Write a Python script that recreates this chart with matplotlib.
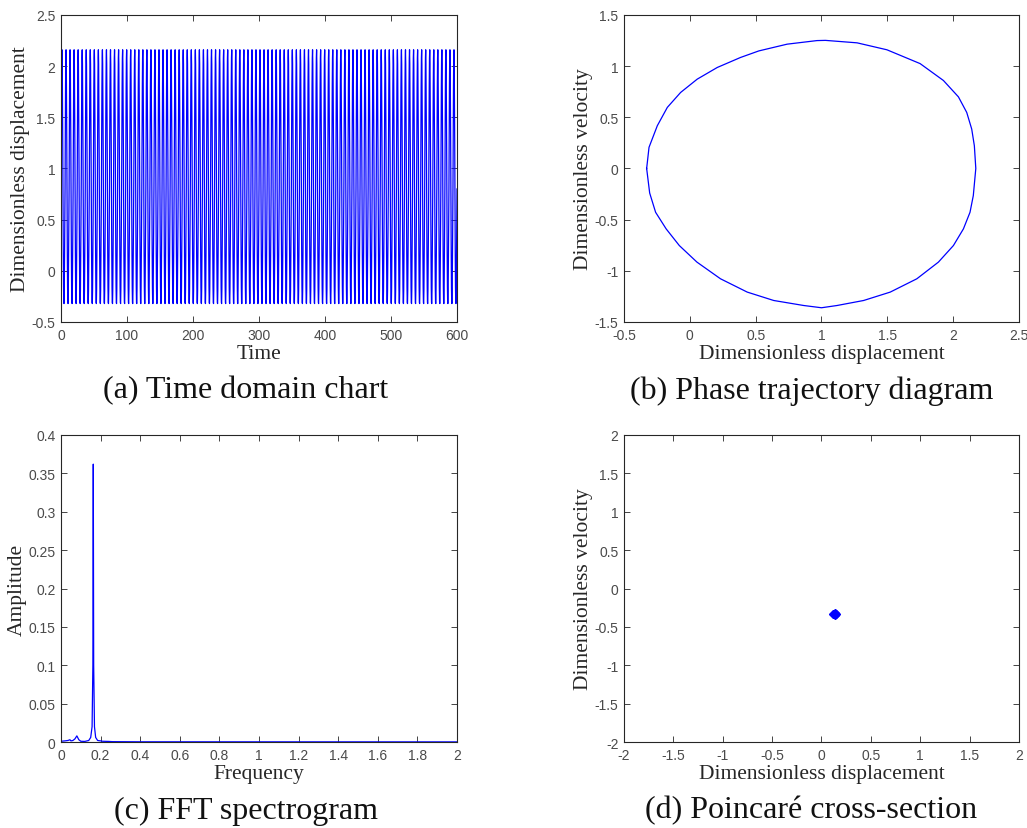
import numpy as np
import matplotlib
matplotlib.use('Agg')
import matplotlib.pyplot as plt

ciclo_desl = [0.80, 1.35, 1.80, 2.08, 2.16, 2.02, 1.68, 1.20, 0.66, 0.18,
              -0.16, -0.31, -0.32, -0.18, 0.10, 0.45]
n_ciclos = 98
t_max = 600

# phase loop (displacement, velocity), clockwise from the leftmost point
fase_x = [-0.328, -0.31, -0.247, -0.171, -0.070, 0.056, 0.208, 0.385, 0.524,
          0.739, 0.966, 1.03, 1.270, 1.497, 1.749, 1.926, 2.040, 2.103, 2.141,
          2.161, 2.172, 2.153, 2.128, 2.078, 2.002, 1.888, 1.724, 1.522, 1.320,
          1.118, 1.0, 0.865, 0.637, 0.436, 0.233, 0.054, -0.080, -0.180,
          -0.260, -0.305, -0.328]
fase_v = [0.0, 0.207, 0.418, 0.597, 0.743, 0.873, 0.987, 1.085, 1.149,
          1.215, 1.250, 1.252, 1.228, 1.160, 1.025, 0.860, 0.700, 0.548, 0.385,
          0.222, 0.0, -0.265, -0.428, -0.590, -0.753, -0.915, -1.078, -1.208,
          -1.290, -1.339, -1.361, -1.339, -1.290, -1.208, -1.078, -0.915, -0.753,
          -0.590, -0.428, -0.240, 0.0]

# FFT spectrum
freq = [0, 0.02, 0.035, 0.045, 0.05, 0.06, 0.07, 0.08, 0.09, 0.10, 0.12,
        0.14, 0.15, 0.157, 0.161, 0.163, 0.165, 0.169, 0.175, 0.185, 0.20,
        0.21, 0.24, 0.26, 0.40, 2.0]
ampl = [0.001, 0.0015, 0.002, 0.003, 0.0015, 0.002, 0.004, 0.008, 0.003, 0.001, 0.0008,
        0.002, 0.006, 0.02, 0.1, 0.362, 0.1, 0.02, 0.006, 0.002, 0.0015,
        0.001, 0.0008, 0.0005, 0.0003, 0.0002]

# Poincare points
poinc_x = [0.12, 0.135, 0.15, 0.14]
poinc_v = [-0.33, -0.35, -0.33, -0.32]

legendas = ['(a) Time domain chart', '(b) Phase trajectory diagram',
            '(c) FFT spectrogram', '(d) Poincaré cross-section']

azul = '#0000ff'
serif = 'Liberation Serif'
sans = 'Liberation Sans'
tam_rotulo = 15.5

fig = plt.figure(figsize=(10.27, 8.29), dpi=100)

posicoes = [[0.0594, 0.6104, 0.3856, 0.3703],
            [0.6076, 0.6104, 0.3846, 0.3703],
            [0.0594, 0.1037, 0.3856, 0.3704],
            [0.6076, 0.1037, 0.3846, 0.3704]]
eixos = [fig.add_axes(p) for p in posicoes]


def estilo(ax):
    for s in ax.spines.values():
        s.set_color('#262626')
        s.set_linewidth(0.8)
    ax.tick_params(direction='in', top=True, right=True, length=4,
                   width=0.6, color='#262626', labelcolor='#4a4a4a',
                   labelsize=10, pad=4)
    for lab in ax.get_xticklabels() + ax.get_yticklabels():
        lab.set_family(sans)


def rotulos(ax, xl, yl):
    ax.set_xlabel(xl, family=serif, fontsize=tam_rotulo, color='#262626', labelpad=2)
    ax.set_ylabel(yl, family=serif, fontsize=tam_rotulo, color='#262626', labelpad=1)


# (a)
ax = eixos[0]
desl = np.append(np.tile(ciclo_desl, n_ciclos), ciclo_desl[0])
tempo = np.linspace(0, t_max, len(desl))
ax.plot(tempo, desl, color=azul, lw=0.9)
ax.set_xlim(0, 600)
ax.set_ylim(-0.5, 2.5)
ax.set_xticks(range(0, 601, 100))
ax.set_yticks([-0.5, 0, 0.5, 1, 1.5, 2, 2.5])
ax.set_yticklabels(['-0.5', '0', '0.5', '1', '1.5', '2', '2.5'])
rotulos(ax, 'Time', 'Dimensionless displacement')

# (b)
ax = eixos[1]
ax.plot(fase_x, fase_v, color=azul, lw=0.9)
ax.set_xlim(-0.5, 2.5)
ax.set_ylim(-1.5, 1.5)
ax.set_xticks([-0.5, 0, 0.5, 1, 1.5, 2, 2.5])
ax.set_xticklabels(['-0.5', '0', '0.5', '1', '1.5', '2', '2.5'])
ax.set_yticks([-1.5, -1, -0.5, 0, 0.5, 1, 1.5])
ax.set_yticklabels(['-1.5', '-1', '-0.5', '0', '0.5', '1', '1.5'])
rotulos(ax, 'Dimensionless displacement', 'Dimensionless velocity')

# (c)
ax = eixos[2]
ax.plot(freq, ampl, color=azul, lw=0.9)
ax.set_xlim(0, 2)
ax.set_ylim(0, 0.4)
ax.set_xticks(np.arange(0, 2.01, 0.2))
ax.set_xticklabels(['0', '0.2', '0.4', '0.6', '0.8', '1', '1.2', '1.4', '1.6', '1.8', '2'])
ax.set_yticks(np.arange(0, 0.401, 0.05))
ax.set_yticklabels(['0', '0.05', '0.1', '0.15', '0.2', '0.25', '0.3', '0.35', '0.4'])
rotulos(ax, 'Frequency', 'Amplitude')

# (d)
ax = eixos[3]
ax.plot(poinc_x, poinc_v, 'D', color=azul, ms=4, mec=azul)
ax.set_xlim(-2, 2)
ax.set_ylim(-2, 2)
ticks_d = [-2, -1.5, -1, -0.5, 0, 0.5, 1, 1.5, 2]
ax.set_xticks(ticks_d)
ax.set_xticklabels(['-2', '-1.5', '-1', '-0.5', '0', '0.5', '1', '1.5', '2'])
ax.set_yticks(ticks_d)
ax.set_yticklabels(['-2', '-1.5', '-1', '-0.5', '0', '0.5', '1', '1.5', '2'])
rotulos(ax, 'Dimensionless displacement', 'Dimensionless velocity')

for ax in eixos:
    estilo(ax)

# captions under each panel
cap_pos = [(0.2395, 1 - 391 / 829), (0.790, 1 - 391 / 829),
           (0.2395, 1 - 811 / 829), (0.790, 1 - 811 / 829)]
for (cx, cy), txt in zip(cap_pos, legendas):
    fig.text(cx, cy, txt, family=serif, fontsize=23, ha='center', va='center',
             color='#111111')

fig.savefig('out.png', dpi=100)
